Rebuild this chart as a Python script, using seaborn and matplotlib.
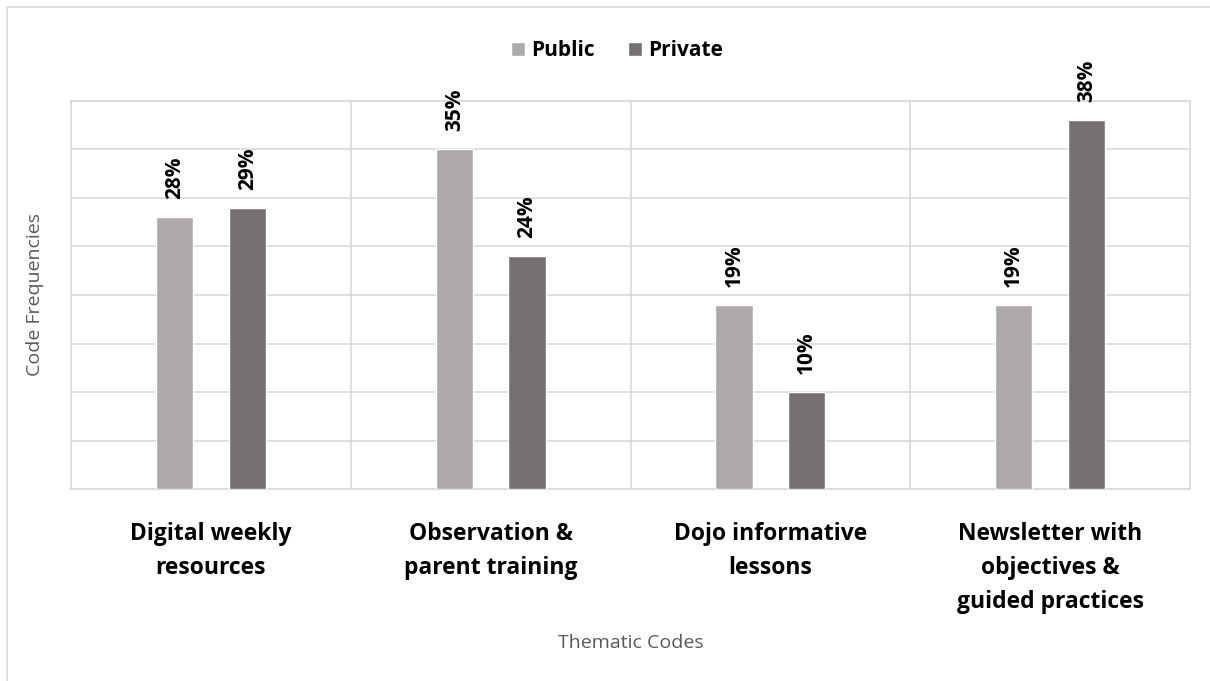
import numpy as np
import pandas as pd
import matplotlib
matplotlib.use("Agg")
import matplotlib.pyplot as plt
from matplotlib.lines import Line2D
import seaborn as sns

# chart data
categories = ["Digital weekly\nresources", "Observation &\nparent training",
              "Dojo informative\nlessons", "Newsletter with\nobjectives &\nguided practices"]
public = [28, 35, 19, 19]
private = [29, 24, 10, 38]
groups = ["Public", "Private"]
colors = ["#AEAAAA", "#767171"]

df = pd.DataFrame({
    "Code": categories * 2,
    "Value": public + private,
    "School": ["Public"] * 4 + ["Private"] * 4,
})

sns.set_style("white")
plt.rcParams["font.family"] = ["Open Sans", "DejaVu Sans"]

fig = plt.figure(figsize=(12.1, 6.81), dpi=100)
ax = fig.add_axes([71 / 1210, 1 - 489 / 681, (1190 - 71) / 1210, (489 - 101) / 681])

sns.barplot(data=df, x="Code", y="Value", hue="School", hue_order=groups,
            palette=colors, width=0.52, gap=0.49, saturation=1, ax=ax, zorder=3)

# value labels
for cont in ax.containers:
    ax.bar_label(cont, labels=[f"{v:.0f}%" for v in cont.datavalues], rotation=90,
                 padding=13, fontsize=15, fontweight="bold", color="black")

ax.set_ylim(0, 40)
ax.set_xlim(-0.5, 3.5)
ax.set_yticks(np.arange(0, 41, 5))
ax.set_yticklabels([])
ax.tick_params(axis="y", length=0)
ax.set_xticks(np.arange(0.5, 3, 1), minor=True)
ax.grid(axis="y", color="#D9D9D9", linewidth=1.2, zorder=0)
ax.grid(axis="x", which="minor", color="#D9D9D9", linewidth=1.2, zorder=0)
for s in ax.spines.values():
    s.set_color("#D9D9D9")
    s.set_linewidth(1.2)

ax.tick_params(axis="x", which="both", length=0, pad=24, labelcolor="black")
for lab in ax.get_xticklabels():
    lab.set_fontsize(16.5)
    lab.set_fontweight("bold")
    lab.set_linespacing(1.55)

ax.set_xlabel("Thematic Codes", fontsize=14, color="#595959", labelpad=14)
ax.set_ylabel("Code Frequencies", fontsize=14, color="#595959", labelpad=16)

leg = ax.legend(loc="upper center", bbox_to_anchor=(0.488, 1.205), ncol=2, frameon=False,
                handlelength=0.65, handleheight=0.65, handletextpad=0.3, columnspacing=1.6,
                prop={"size": 15, "weight": "bold"})
for t in leg.get_texts():
    t.set_color("black")

# outer chart border
fig.add_artist(Line2D([7 / 1210, 1], [1 - 7 / 681, 1 - 7 / 681], color="#D9D9D9", lw=1.2))
fig.add_artist(Line2D([7 / 1210, 7 / 1210], [0, 1 - 7 / 681], color="#D9D9D9", lw=1.2))

fig.savefig("out.png", dpi=100)
